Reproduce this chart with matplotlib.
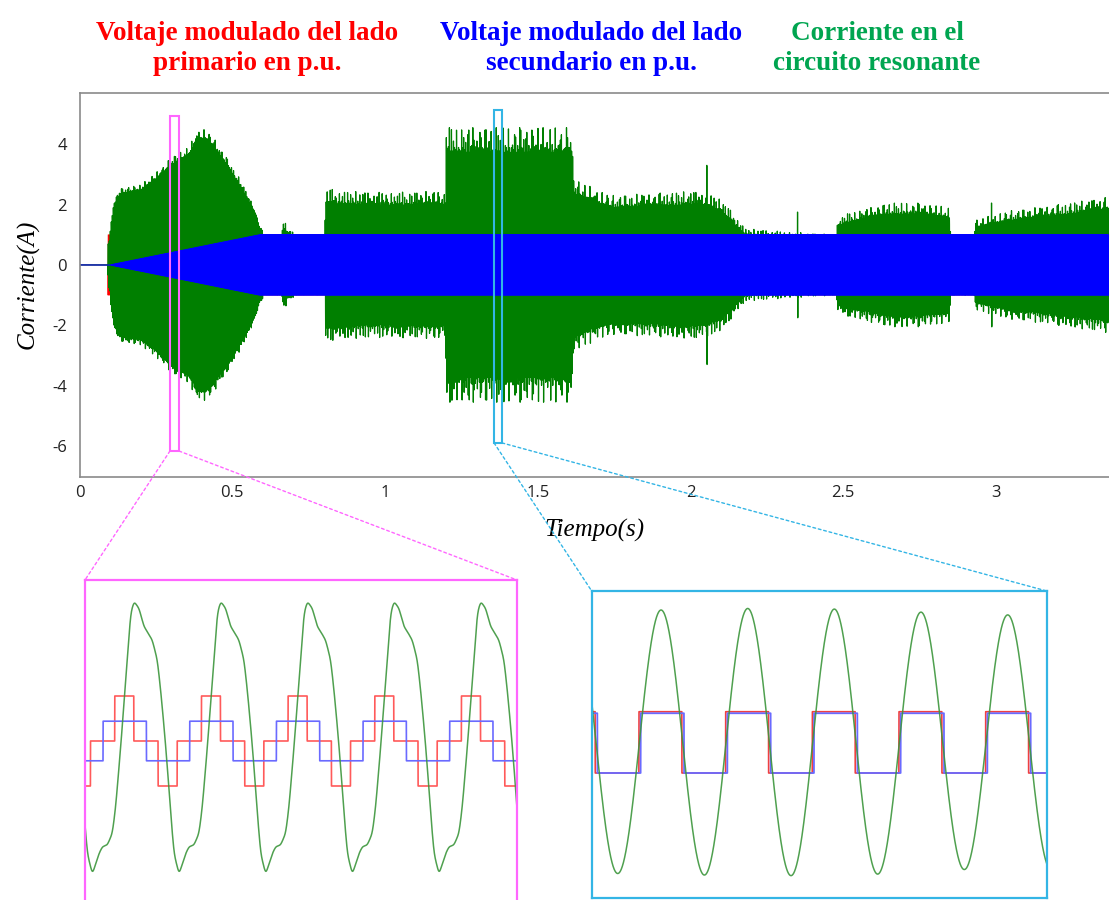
import numpy as np
import matplotlib
matplotlib.use("Agg")
import matplotlib.pyplot as plt
from matplotlib.patches import Rectangle, ConnectionPatch

# ---------------- main record ----------------
# resonant-current envelope breakpoints: time (s), peak current (A)
env_t = [0.0, 0.0929, 0.093, 0.099, 0.104, 0.112, 0.130, 0.160, 0.200, 0.250,
         0.300, 0.330, 0.360, 0.385, 0.410, 0.440, 0.480, 0.525, 0.570, 0.590,
         0.610, 0.660, 0.665, 0.680, 0.700, 0.720, 0.803, 0.806, 0.850, 1.000,
         1.198, 1.200, 1.400, 1.612, 1.616, 1.690, 1.740, 2.030, 2.100, 2.140,
         2.180, 2.310, 2.478, 2.482, 2.550, 2.650, 2.750, 2.848, 2.852, 2.928,
         2.932, 3.050, 3.170, 3.270, 3.370]
env_a = [0.0, 0.0, 0.7, 0.9, 1.5, 2.1, 2.5, 2.6, 2.65, 3.05,
         3.55, 3.75, 3.95, 4.45, 4.5, 4.2, 3.6, 2.85, 1.95, 1.3,
         0.9, 0.9, 1.5, 1.3, 1.1, 0.9, 0.9, 2.55, 2.45, 2.4,
         2.45, 4.55, 4.55, 4.55, 2.9, 2.5, 2.3, 2.45, 2.2, 1.7,
         1.2, 1.1, 1.0, 1.6, 1.8, 2.05, 2.05, 1.9, 1.0, 1.0,
         1.5, 1.8, 1.95, 2.1, 2.25]
# how far individual cycles fall short of the envelope
depth_t = [0.0, 0.60, 0.62, 3.37]
depth_v = [0.07, 0.07, 0.18, 0.18]
cycle_ripple_a = [1.0, 0.9, 0.2, 1.0, 0.8, 1.0, 0.95, 0.1, 0.85, 1.0, 0.9, 0.7,
                  1.0, 0.3, 0.95, 1.0, 0.85, 0.9, 0.0, 1.0, 0.8, 0.95, 0.6]
cycle_ripple_b = [1.0, 0.9, 0.95, 0.4, 1.0, 0.85, 1.0, 0.95, 0.1, 1.0, 0.9, 0.8,
                  1.0, 0.5, 0.95, 1.0, 0.9]
# isolated current spikes: time (s), peak (A)
spike_t = [2.053, 2.350, 2.985]
spike_a = [3.3, 1.75, 2.05]
# secondary voltage (p.u.) envelope
blue_t = [0.0, 0.0999, 0.100, 0.590, 3.370]
blue_a = [0.0, 0.0, 0.0, 1.0, 1.0]
red_start = 0.093
carrier_hz = 300.0
samples_per_cycle = 24
t_end = 3.37

# ---------------- zoom windows (s, s, A, A) ----------------
win1 = (0.296, 0.326, -6.17, 4.94)
win2 = (1.357, 1.383, -5.90, 5.14)

# soft-start detail: 3-level primary, 2-level secondary, distorted current
w1_periods = 4.985
w1_phase0 = -0.208
red1_edges = [0.0, 0.135, 0.355, 0.635, 0.855]
red1_levels = [0.0, 1.0, 0.0, -1.0, 0.0]
blue1_edges = [0.0, 0.5]
blue1_levels = [0.44, -0.44]
g1_phase = [0.050, 0.108, 0.146, 0.204, 0.262, 0.319, 0.358, 0.415, 0.473,
            0.512, 0.569, 0.627, 0.665, 0.704, 0.742, 0.781, 0.819, 0.877,
            0.954, 0.992]
g1_value = [-2.31, -2.05, -1.46, -0.13, 1.36, 2.84, 3.10, 2.95, 2.54,
            2.43, 2.24, 1.80, 1.13, 0.32, -0.57, -1.61, -2.50, -2.96,
            -2.50, -2.35]

# steady-state detail: 2-level voltages, sinusoidal current
w2_periods = 5.25
w2_phase0 = -0.565
red2_edges = [0.0, 0.475, 0.98]
red2_levels = [1.0, -1.0, 1.0]
blue2_edges = [0.0, 0.5]
blue2_levels = [0.95, -1.0]
g2_shift = 0.015
g2_ext_phase = [-0.269, 0.235, 0.731, 1.235, 1.731, 2.235, 2.735, 3.238, 3.735, 4.242]
g2_ext_amp = [4.28, 4.32, 4.33, 4.37, 4.35, 4.35, 4.30, 4.25, 4.15, 4.16]

C_RED = "#ff0000"
C_BLUE = "#0000ff"
C_GREEN = "#007f00"
C_MAG = "#ff66ff"
C_CYAN = "#33b5e5"


def staircase(frac, edges, levels):
    idx = np.searchsorted(edges, frac, side="right") - 1
    return np.asarray(levels)[idx]


# ---------------- signals for the main record ----------------
t = np.arange(0.0, t_end, 1.0 / (carrier_hz * samples_per_cycle))
cyc = carrier_hz * t
k = np.floor(cyc).astype(int)
ripple = (np.asarray(cycle_ripple_a)[k % len(cycle_ripple_a)]
          * np.asarray(cycle_ripple_b)[k % len(cycle_ripple_b)])
amp = np.interp(t, env_t, env_a) * (1.0 - np.interp(t, depth_t, depth_v) * ripple)
green = amp * np.sin(2 * np.pi * cyc)
for ts, a in zip(spike_t, spike_a):
    i = int(np.searchsorted(t, ts))
    green[i:i + samples_per_cycle // 4] = a
    green[i + samples_per_cycle // 4:i + samples_per_cycle // 2] = -a
blue = np.interp(t, blue_t, blue_a) * staircase(cyc % 1.0, blue1_edges, [1.0, -1.0])
red = np.where(t >= red_start, staircase(cyc % 1.0, [0.0, 0.5], [1.0, -1.0]), 0.0)

fig = plt.figure(figsize=(11.09, 9.0), dpi=100)
ax = fig.add_axes([79.5 / 1109, 1 - 476.7 / 900, 1 - 79.5 / 1109, (476.7 - 92.7) / 900])
ax.plot(t, red, color=C_RED, lw=0.5)
ax.plot(t, green, color=C_GREEN, lw=0.9)
ax.plot(t, blue, color=C_BLUE, lw=0.8)
ax.set_xlim(0, t_end)
ax.set_ylim(-7.02, 5.71)
ax.set_xticks([0, 0.5, 1, 1.5, 2, 2.5, 3])
ax.set_xticklabels(["0", "0.5", "1", "1.5", "2", "2.5", "3"])
ax.set_yticks([-6, -4, -2, 0, 2, 4])
ax.set_yticklabels(["-6", "-4", "-2", "0", "2", "4"])
for lab in ax.get_xticklabels() + ax.get_yticklabels():
    lab.set_fontfamily("Open Sans")
    lab.set_fontsize(12)
    lab.set_color("#222222")
ax.tick_params(axis="both", length=0)
ax.tick_params(axis="x", pad=6)
ax.tick_params(axis="y", pad=9)
ax.spines["right"].set_visible(False)
for s in ("top", "left", "bottom"):
    ax.spines[s].set_color("#8a8a8a")
    ax.spines[s].set_linewidth(1.2)

ax.set_xlabel("Tiempo(s)", family="Liberation Serif", style="italic", fontsize=18, labelpad=13)
ax.set_ylabel("Corriente(A)", family="Liberation Serif", style="italic", fontsize=18, labelpad=9)

for (x0, x1, y0, y1), col in ((win1, C_MAG), (win2, C_CYAN)):
    ax.add_patch(Rectangle((x0, y0), x1 - x0, y1 - y0, fill=False,
                           edgecolor=col, lw=1.5, zorder=5))

# ---------------- detail panels ----------------
ins1 = fig.add_axes([85 / 1109, -10 / 900, (517 - 85) / 1109, (910 - 580) / 900])
ins2 = fig.add_axes([591.7 / 1109, 2 / 900, (1046.7 - 591.7) / 1109, (898 - 591) / 900])

# panel 1
x0, x1 = win1[0], win1[1]
T1 = (x1 - x0) / w1_periods
tt1 = np.linspace(x0, x1, 6000)
ph1 = w1_phase0 + (tt1 - x0) / T1
f1 = ph1 % 1.0
grid = np.linspace(0, 1, 2000, endpoint=False)
shape = np.interp(grid, g1_phase, g1_value, period=1.0)
kern = np.exp(-0.5 * ((np.arange(-60, 61) / 2000.0) / 0.012) ** 2)
kern /= kern.sum()
shape = np.convolve(np.concatenate([shape[-60:], shape, shape[:60]]), kern, mode="valid")
g1 = np.interp(f1, grid, shape, period=1.0)
ins1.plot(tt1, staircase(f1, red1_edges, red1_levels), color="#ff5a5a", lw=1.2)
ins1.plot(tt1, staircase(f1, blue1_edges, blue1_levels), color="#6a6aff", lw=1.2)
ins1.plot(tt1, g1, color="#3c963c", lw=1.1, alpha=0.9)
ins1.set_xlim(x0, x1)
ins1.set_ylim(-3.756, 3.578)

# panel 2
x0, x1 = win2[0], win2[1]
T2 = (x1 - x0) / w2_periods
tt2 = np.linspace(x0, x1, 6000)
ph2 = w2_phase0 + (tt2 - x0) / T2
f2 = ph2 % 1.0
g2 = np.interp(ph2, g2_ext_phase, g2_ext_amp) * np.sin(2 * np.pi * (ph2 + g2_shift))
ins2.plot(tt2, staircase(f2, red2_edges, red2_levels), color="#f04040", lw=1.2)
ins2.plot(tt2, staircase(f2, blue2_edges, blue2_levels), color="#6a6aff", lw=1.3)
ins2.plot(tt2, g2, color="#3c963c", lw=1.1, alpha=0.9)
ins2.set_xlim(x0, x1)
ins2.set_ylim(-5.08, 4.94)

for ins, col in ((ins1, C_MAG), (ins2, C_CYAN)):
    ins.set_xticks([])
    ins.set_yticks([])
    for s in ins.spines.values():
        s.set_color(col)
        s.set_linewidth(1.6)

# connector lines from the zoom boxes to the panels
for (wx0, wx1, wy0, wy1), ins, col in ((win1, ins1, C_MAG), (win2, ins2, C_CYAN)):
    for xa, xb in ((wx0, 0.0), (wx1, 1.0)):
        con = ConnectionPatch(xyA=(xa, wy0), coordsA=ax.transData,
                              xyB=(xb, 1.0), coordsB=ins.transAxes,
                              color=col, lw=1.0, linestyle=(0, (2, 2)))
        fig.add_artist(con)

# ---------------- series captions ----------------
caps = [
    ("Voltaje modulado del lado", "primario en p.u.", 247.5, C_RED),
    ("Voltaje modulado del lado", "secundario en p.u.", 591.0, C_BLUE),
    ("Corriente en el", "circuito resonante", 877.0, "#00a550"),
]
for l1, l2, xc, col in caps:
    for txt, yb in ((l1, 40), (l2, 70)):
        fig.text(xc / 1109, 1 - yb / 900, txt, ha="center", va="baseline",
                 family="Liberation Serif", weight="bold", fontsize=19.5, color=col)

fig.savefig("out.png", dpi=100)
